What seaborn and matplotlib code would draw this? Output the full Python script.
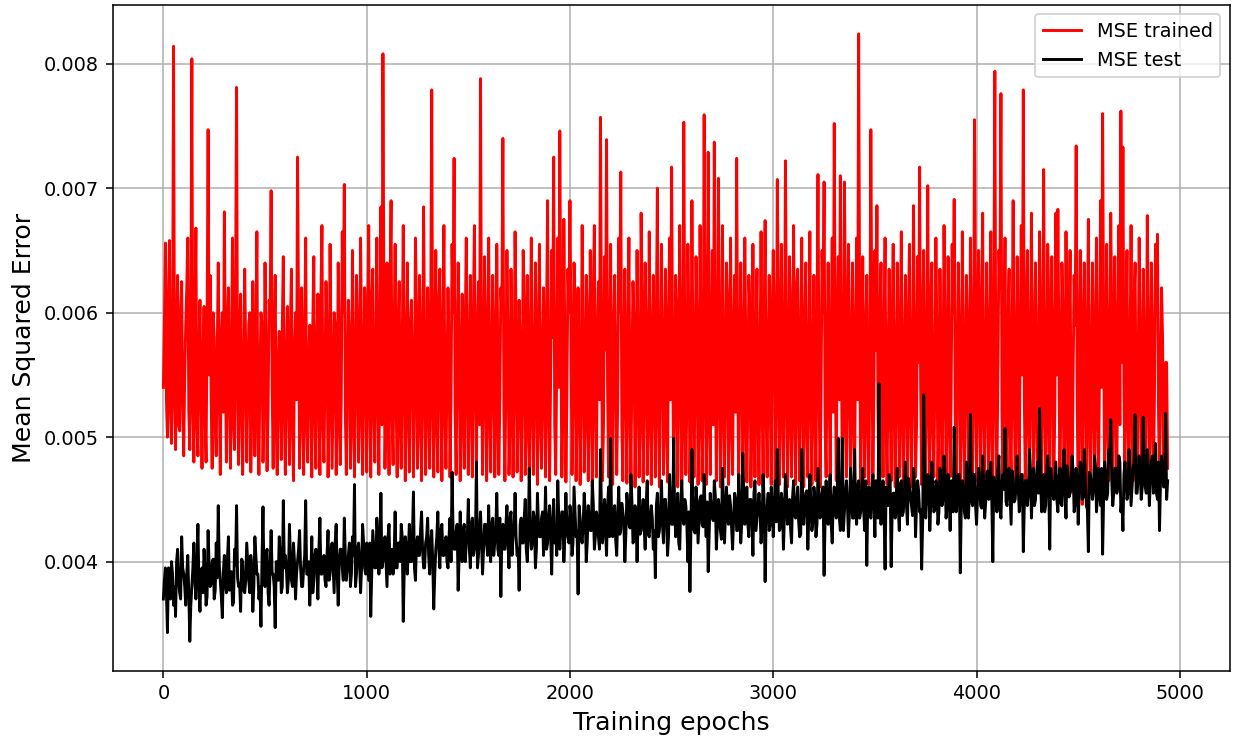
import numpy as np
import pandas as pd
import matplotlib
matplotlib.use("Agg")
import matplotlib.pyplot as plt
import seaborn as sns

# Readings every 10 epochs (epochs 0, 10, 20, ...) in units of 1e-6
mse_trained_e6 = [
    5400, 6560, 5000, 6580, 4950, 8140, 4900, 6300, 5050, 6250, 4850, 5900, 6600, 4900, 8040, 4800, 6680, 4850, 6100, 4750,
    6050, 4800, 7470, 6300, 4750, 5800, 4850, 6400, 4700, 6000, 6810, 4800, 6200, 4750, 6600, 4900, 7810, 4780, 6150, 4700,
    6350, 4800, 5900, 4720, 6250, 4850, 6650, 4700, 6000, 4800, 6400, 4730, 6100, 6980, 4750, 6300, 4700, 5850, 4820, 6450,
    4700, 6050, 4780, 6350, 4650, 6000, 7250, 4750, 6200, 4700, 6600, 4800, 5900, 4680, 6450, 4750, 6150, 4700, 6700, 4800,
    6250, 4680, 6550, 4750, 6000, 4700, 6400, 4780, 6650, 7030, 4700, 6100, 4750, 6500, 4680, 6300, 4800, 6600, 4700, 6200,
    4720, 6700, 4680, 6350, 4800, 6600, 4700, 6850, 8080, 4750, 6400, 4700, 6900, 4780, 6550, 4680, 6250, 4750, 6700, 4650,
    6400, 4720, 6100, 4680, 6600, 4750, 6300, 4650, 6850, 4700, 6200, 4750, 7790, 4680, 6500, 4720, 6350, 4650, 6700, 4750,
    6200, 4680, 6550, 7240, 4700, 6400, 4650, 6150, 4750, 6600, 4700, 6300, 4680, 6700, 4720, 6250, 7880, 4700, 6450, 4650,
    6600, 4720, 6300, 4680, 6550, 4700, 6200, 7400, 4650, 6500, 4700, 6350, 4680, 6650, 4720, 6100, 4650, 6500, 4700, 6300,
    4660, 6600, 4700, 6400, 4620, 6550, 4750, 6200, 4680, 6900, 4650, 6500, 7250, 4700, 6600, 7460, 4680, 6750, 4640, 6350,
    6900, 4700, 6400, 4650, 6200, 4620, 6700, 4720, 6300, 4650, 6500, 4600, 6700, 4680, 6250, 7570, 4650, 6450, 7390, 4680,
    6550, 4620, 6300, 4700, 6600, 7130, 4650, 6350, 4630, 6600, 4700, 6250, 4600, 6500, 4680, 6800, 4640, 6400, 4700, 6650,
    4620, 6300, 4680, 7000, 4600, 6550, 4700, 6350, 4640, 6600, 7170, 4680, 6300, 4600, 6700, 4650, 7530, 4700, 6550, 4640,
    6900, 4680, 6450, 4620, 6700, 4650, 7590, 4620, 7290, 4700, 6500, 7370, 4650, 7080, 4600, 6700, 4680, 6400, 4620, 6600,
    4700, 6300, 7240, 4620, 6400, 4700, 6600, 4640, 6300, 4600, 6550, 4680, 6350, 4620, 6650, 4600, 6740, 4680, 6300, 4620,
    6500, 4650, 7070, 4620, 6550, 4680, 7220, 4600, 6450, 4680, 6700, 4620, 6350, 4650, 6600, 4600, 6400, 4680, 6650, 4620,
    6300, 4650, 7110, 4600, 6500, 7050, 4680, 6400, 4620, 6600, 7520, 4650, 6450, 7100, 4600, 7050, 4680, 6550, 4620, 6400,
    4650, 6600, 8240, 4600, 6450, 4680, 6300, 4620, 7470, 4650, 6500, 6860, 4600, 6400, 4680, 6600, 4620, 6350, 4650, 6550,
    4600, 6400, 4680, 6650, 4620, 6300, 4650, 6550, 4600, 6860, 4680, 6450, 7170, 4620, 6500, 4650, 7020, 4600, 6400, 4680,
    6600, 4620, 6350, 4650, 6700, 4600, 6450, 4680, 6550, 6910, 4620, 6400, 4650, 6650, 4600, 6300, 4680, 6600, 4620, 7550,
    4650, 6500, 4600, 6800, 4680, 6400, 4620, 6650, 4600, 7940, 4650, 6500, 7760, 4620, 6600, 4680, 6350, 4600, 6900, 4650,
    6450, 4620, 6700, 7790, 4600, 6500, 4650, 6800, 4620, 6400, 4600, 6650, 4680, 7150, 4620, 6550, 4600, 6450, 4650, 6800,
    6830, 4620, 6400, 4580, 6650, 4620, 6500, 4560, 6300, 7340, 4500, 6500, 4460, 6400, 4520, 6750, 4580, 6400, 4620, 6600,
    4600, 6900, 7600, 4620, 6550, 4650, 6800, 4600, 6450, 4680, 6700, 7620, 7330, 4620, 6500, 4580, 6700, 4650, 6400, 4600,
    6600, 4650, 6350, 4620, 6780, 4600, 6400, 4650, 6550, 6630, 4620, 6200, 4700, 5600, 4750,
]

# Readings in between (epochs 5, 15, 25, ...) in units of 1e-6
mse_trained_mid_e6 = [
    5900, 5300, 6100, 5200, 5600, 5400, 5800, 5100, 6000, 5300, 5500, 6200, 5200, 5800, 5300, 5900, 5100, 5700, 5400, 5600,
    5200, 5900, 5500, 5300, 6000, 5100, 5700, 5400, 5800, 5200, 5600, 5900, 5300, 5700, 5100, 6100, 5400, 5800, 5200, 5500,
    5700, 5300, 6000, 5200, 5600, 5800, 5100, 5500, 5900, 5300, 5700, 5200, 6000, 5400, 5800, 5100, 5600, 5300, 5900, 5200,
    5600, 5400, 5900, 5100, 5700, 5300, 6000, 5200, 5500, 5800, 5100, 5600, 5400, 5900, 5200, 5700, 5300, 6100, 5100, 5500,
    5800, 5200, 5600, 5400, 5900, 5100, 5700, 5300, 6000, 5200, 5500, 5800, 5100, 5600, 5400, 5900, 5200, 5700, 5300, 6000,
    5900, 5300, 6100, 5200, 5600, 5400, 5800, 5100, 6000, 5300, 5500, 6200, 5200, 5800, 5300, 5900, 5100, 5700, 5400, 5600,
    5200, 5900, 5500, 5300, 6000, 5100, 5700, 5400, 5800, 5200, 5600, 5900, 5300, 5700, 5100, 6100, 5400, 5800, 5200, 5500,
    5700, 5300, 6000, 5200, 5600, 5800, 5100, 5500, 5900, 5300, 5700, 5200, 6000, 5400, 5800, 5100, 5600, 5300, 5900, 5200,
    5600, 5400, 5900, 5100, 5700, 5300, 6000, 5200, 5500, 5800, 5100, 5600, 5400, 5900, 5200, 5700, 5300, 6100, 5100, 5500,
    5800, 5200, 5600, 5400, 5900, 5100, 5700, 5300, 6000, 5200, 5500, 5800, 5100, 5600, 5400, 5900, 5200, 5700, 5300, 6000,
    5900, 5300, 6100, 5200, 5600, 5400, 5800, 5100, 6000, 5300, 5500, 6200, 5200, 5800, 5300, 5900, 5100, 5700, 5400, 5600,
    5200, 5900, 5500, 5300, 6000, 5100, 5700, 5400, 5800, 5200, 5600, 5900, 5300, 5700, 5100, 6100, 5400, 5800, 5200, 5500,
    5700, 5300, 6000, 5200, 5600, 5800, 5100, 5500, 5900, 5300, 5700, 5200, 6000, 5400, 5800, 5100, 5600, 5300, 5900, 5200,
    5600, 5400, 5900, 5100, 5700, 5300, 6000, 5200, 5500, 5800, 5100, 5600, 5400, 5900, 5200, 5700, 5300, 6100, 5100, 5500,
    5800, 5200, 5600, 5400, 5900, 5100, 5700, 5300, 6000, 5200, 5500, 5800, 5100, 5600, 5400, 5900, 5200, 5700, 5300, 6000,
    5900, 5300, 6100, 5200, 5600, 5400, 5800, 5100, 6000, 5300, 5500, 6200, 5200, 5800, 5300, 5900, 5100, 5700, 5400, 5600,
    5200, 5900, 5500, 5300, 6000, 5100, 5700, 5400, 5800, 5200, 5600, 5900, 5300, 5700, 5100, 6100, 5400, 5800, 5200, 5500,
    5700, 5300, 6000, 5200, 5600, 5800, 5100, 5500, 5900, 5300, 5700, 5200, 6000, 5400, 5800, 5100, 5600, 5300, 5900, 5200,
    5600, 5400, 5900, 5100, 5700, 5300, 6000, 5200, 5500, 5800, 5100, 5600, 5400, 5900, 5200, 5700, 5300, 6100, 5100, 5500,
    5800, 5200, 5600, 5400, 5900, 5100, 5700, 5300, 6000, 5200, 5500, 5800, 5100, 5600, 5400, 5900, 5200, 5700, 5300, 6000,
    5900, 5300, 6100, 5200, 5600, 5400, 5800, 5100, 6000, 5300, 5500, 6200, 5200, 5800, 5300, 5900, 5100, 5700, 5400, 5600,
    5200, 5900, 5500, 5300, 6000, 5100, 5700, 5400, 5800, 5200, 5600, 5900, 5300, 5700, 5100, 6100, 5400, 5800, 5200, 5500,
    5700, 5300, 6000, 5200, 5600, 5800, 5100, 5500, 5900, 5300, 5700, 5200, 6000, 5400, 5800, 5100, 5600, 5300, 5900, 5200,
    5600, 5400, 5900, 5100, 5700, 5300, 6000, 5200, 5500, 5800, 5100, 5600, 5400, 5900, 5200, 5700, 5300, 6100, 5100, 5500,
    5800, 5200, 5600, 5400, 5900, 5100, 5700, 5300, 6000, 5200, 5500, 5800, 5100, 5600,
]

# Test-set readings every 10 epochs (units of 1e-6)
mse_test_e6 = [
    3700, 3950, 3430, 3800, 4000, 3650, 3560, 4100, 3750, 4200, 3900, 3650, 4050, 3360, 3800, 4150, 3700, 4300, 3600, 3950,
    4100, 3650, 4250, 3800, 4000, 3700, 4150, 4450, 3850, 3550, 4050, 3750, 4200, 3900, 3650, 4100, 4450, 3800, 3600, 4000,
    3750, 4150, 3850, 4050, 3600, 4200, 3900, 3700, 3480, 4440, 3800, 4100, 3650, 4250, 3900, 3470, 4000, 4200, 3750, 4490,
    4050, 3750, 4300, 3850, 4150, 3700, 4000, 4250, 3800, 3950, 4490, 3900, 3650, 4200, 3850, 4100, 3700, 4350, 3900, 4050,
    3800, 4250, 3900, 4150, 3750, 4300, 3650, 4100, 3950, 4350, 3850, 4050, 3800, 4200, 4620, 3900, 4150, 3750, 4300, 3950,
    4150, 3850, 3560, 4250, 3950, 4350, 3900, 4550, 4000, 4200, 3800, 4300, 4050, 3900, 4400, 3950, 4150, 4300, 3520, 4200,
    3900, 4300, 4000, 4560, 3850, 4200, 4050, 4400, 3950, 4150, 4350, 3900, 4250, 3620, 4100, 4400, 3950, 4300, 4050, 4200,
    3950, 4350, 4720, 4100, 4250, 3770, 4400, 4000, 4300, 4150, 4500, 3950, 4350, 4100, 4800, 4050, 4400, 3900, 4300, 4150,
    4450, 4000, 4350, 4150, 4550, 4050, 3720, 4300, 4100, 4450, 3950, 4400, 4200, 4550, 4050, 3770, 4350, 4150, 4500, 4000,
    4750, 4100, 4400, 3950, 4550, 4200, 4350, 4050, 4600, 4150, 4450, 3900, 4500, 4250, 4650, 4100, 4400, 4000, 4550, 4200,
    4450, 4050, 4600, 4200, 3740, 4350, 4150, 4550, 4000, 4450, 4250, 4650, 4100, 4400, 4200, 4900, 4150, 4500, 4050, 4600,
    4990, 4200, 4450, 4050, 4600, 4250, 4400, 4000, 4550, 4300, 4700, 4150, 4450, 4000, 4600, 4250, 4500, 4100, 4650, 4200,
    4450, 4100, 3870, 4550, 4250, 4650, 4150, 4500, 4050, 4700, 4300, 4990, 4200, 4550, 4100, 4650, 4300, 4450, 4000, 3760,
    4900, 4250, 4600, 4150, 4500, 4300, 4700, 4200, 3920, 4550, 4350, 4650, 4100, 4500, 4250, 4750, 4150, 4600, 4300, 4450,
    4100, 4550, 4250, 4700, 4150, 4870, 4300, 4600, 4200, 4500, 4050, 4650, 4350, 4550, 4150, 4700, 3840, 4450, 4250, 4600,
    4200, 4650, 4900, 4250, 4550, 4100, 4700, 4300, 4500, 4150, 4650, 4350, 4600, 4200, 4900, 4300, 4550, 4100, 4700, 4250,
    4600, 4200, 4750, 4350, 4550, 3890, 4650, 4300, 4700, 4150, 4600, 4350, 4990, 4250, 4990, 4400, 4650, 4200, 4750, 4350,
    4900, 4300, 4650, 4400, 4750, 4250, 3970, 4600, 4350, 4700, 4200, 4550, 5430, 4300, 4650, 3940, 4500, 4700, 3960, 4550,
    4350, 4750, 4250, 4650, 4400, 4800, 4300, 4600, 4450, 4750, 4200, 4650, 4400, 3940, 5340, 4350, 4700, 4250, 4800, 4400,
    4650, 4300, 4750, 4450, 4850, 4350, 4700, 4250, 4600, 5080, 4400, 4700, 3910, 4650, 4400, 4800, 4350, 5180, 4450, 4700,
    4300, 4750, 4450, 4850, 4350, 4700, 4500, 4800, 4000, 4650, 4400, 4850, 4350, 4700, 5070, 4450, 4750, 4300, 4650, 4500,
    4850, 4400, 4700, 4080, 4650, 4450, 4900, 4350, 4750, 4500, 4800, 5230, 4400, 4700, 4450, 4850, 4100, 4650, 4500, 4800,
    4400, 4750, 4450, 4900, 4350, 4700, 4550, 4850, 4400, 4750, 4300, 4800, 4500, 4900, 4450, 4080, 4700, 4500, 4850, 4400,
    4750, 4450, 4060, 4800, 4500, 4900, 5140, 4450, 4750, 4550, 4850, 4400, 4250, 4800, 4500, 4900, 4450, 4750, 5180, 4550,
    4850, 4500, 5160, 4600, 4900, 4450, 4800, 4550, 4950, 4500, 4250, 4850, 4600, 5190, 4650,
]

# Test-set readings in between (epochs 5, 15, 25, ...) in units of 1e-6
mse_test_mid_e6 = [
    3850, 3750, 3950, 3700, 3900, 3800, 4000, 3850, 3700, 3950, 3800, 3900, 3750, 3650, 3950, 3850, 4000, 3800, 3900, 3750,
    3920, 3720, 3970, 3820, 4020, 3770, 3870, 3970, 3720, 3920, 3820, 4020, 3770, 3920, 3670, 3970, 3870, 3820, 4020, 3770,
    3850, 4000, 3750, 3950, 3800, 4050, 3900, 3800, 4000, 3850, 4050, 3750, 3950, 3900, 3800, 4000, 3850, 4050, 3800, 3950,
    3950, 3850, 4050, 3800, 4000, 3900, 4100, 3950, 3800, 4050, 3900, 4000, 3850, 3750, 4050, 3950, 4100, 3900, 4000, 3850,
    4050, 3850, 4100, 3950, 4150, 3900, 4000, 4100, 3850, 4050, 3950, 4150, 3900, 4050, 3800, 4100, 4000, 3950, 4150, 3900,
    4000, 4150, 3900, 4100, 3950, 4200, 4050, 3950, 4150, 4000, 4200, 3900, 4100, 4050, 3950, 4150, 4000, 4200, 3950, 4100,
    4100, 4000, 4200, 3950, 4150, 4050, 4250, 4100, 3950, 4200, 4050, 4150, 4000, 3900, 4200, 4100, 4250, 4050, 4150, 4000,
    4200, 4000, 4250, 4100, 4300, 4050, 4150, 4250, 4000, 4200, 4100, 4300, 4050, 4200, 3950, 4250, 4150, 4100, 4300, 4050,
    4150, 4300, 4050, 4250, 4100, 4350, 4200, 4100, 4300, 4150, 4350, 4050, 4250, 4200, 4100, 4300, 4150, 4350, 4100, 4250,
    4250, 4150, 4350, 4100, 4300, 4200, 4400, 4250, 4100, 4350, 4200, 4300, 4150, 4050, 4350, 4250, 4400, 4200, 4300, 4150,
    4350, 4150, 4400, 4250, 4450, 4200, 4300, 4400, 4150, 4350, 4250, 4450, 4200, 4350, 4100, 4400, 4300, 4250, 4450, 4200,
    4270, 4420, 4170, 4370, 4220, 4470, 4320, 4220, 4420, 4270, 4470, 4170, 4370, 4320, 4220, 4420, 4270, 4470, 4220, 4370,
    4350, 4250, 4450, 4200, 4400, 4300, 4500, 4350, 4200, 4450, 4300, 4400, 4250, 4150, 4450, 4350, 4500, 4300, 4400, 4250,
    4430, 4230, 4480, 4330, 4530, 4280, 4380, 4480, 4230, 4430, 4330, 4530, 4280, 4430, 4180, 4480, 4380, 4330, 4530, 4280,
    4350, 4500, 4250, 4450, 4300, 4550, 4400, 4300, 4500, 4350, 4550, 4250, 4450, 4400, 4300, 4500, 4350, 4550, 4300, 4450,
    4420, 4320, 4520, 4270, 4470, 4370, 4570, 4420, 4270, 4520, 4370, 4470, 4320, 4220, 4520, 4420, 4570, 4370, 4470, 4320,
    4500, 4300, 4550, 4400, 4600, 4350, 4450, 4550, 4300, 4500, 4400, 4600, 4350, 4500, 4250, 4550, 4450, 4400, 4600, 4350,
    4450, 4600, 4350, 4550, 4400, 4650, 4500, 4400, 4600, 4450, 4650, 4350, 4550, 4500, 4400, 4600, 4450, 4650, 4400, 4550,
    4520, 4420, 4620, 4370, 4570, 4470, 4670, 4520, 4370, 4620, 4470, 4570, 4420, 4320, 4620, 4520, 4670, 4470, 4570, 4420,
    4600, 4400, 4650, 4500, 4700, 4450, 4550, 4650, 4400, 4600, 4500, 4700, 4450, 4600, 4350, 4650, 4550, 4500, 4700, 4450,
    4530, 4680, 4430, 4630, 4480, 4730, 4580, 4480, 4680, 4530, 4730, 4430, 4630, 4580, 4480, 4680, 4530, 4730, 4480, 4630,
    4600, 4500, 4700, 4450, 4650, 4550, 4750, 4600, 4450, 4700, 4550, 4650, 4500, 4400, 4700, 4600, 4750, 4550, 4650, 4500,
    4670, 4470, 4720, 4570, 4770, 4520, 4620, 4720, 4470, 4670, 4570, 4770, 4520, 4670, 4420, 4720, 4620, 4570, 4770, 4520,
    4600, 4750, 4500, 4700, 4550, 4800, 4650, 4550, 4750, 4600, 4800, 4500, 4700, 4650, 4550, 4750, 4600, 4800, 4550, 4700,
    4700, 4600, 4800, 4550, 4750, 4650, 4850, 4700, 4550, 4800, 4650, 4750, 4600, 4500,
]

series_labels = ["MSE trained", "MSE test"]
series_colors = ["red", "black"]
y_ticks = [0.004, 0.005, 0.006, 0.007, 0.008]
x_ticks = [0, 1000, 2000, 3000, 4000, 5000]


def series_frame(main_vals, mid_vals, label):
    ep_main = np.arange(len(main_vals)) * 10
    ep_mid = np.arange(len(mid_vals)) * 10 + 5
    d = pd.DataFrame({
        "epoch": np.concatenate([ep_main, ep_mid]),
        "mse": np.concatenate([np.array(main_vals), np.array(mid_vals)]) * 1e-6,
    })
    d["series"] = label
    return d.sort_values("epoch").reset_index(drop=True)


frames = {
    series_labels[0]: series_frame(mse_trained_e6, mse_trained_mid_e6, series_labels[0]),
    series_labels[1]: series_frame(mse_test_e6, mse_test_mid_e6, series_labels[1]),
}

plt.rcParams["font.family"] = ["DejaVu Sans"]
DPI = 139
fig = plt.figure(figsize=(1235 / DPI, 752 / DPI), dpi=DPI)
ax = fig.add_axes([0.0913, 0.1081, 0.9960 - 0.0913, 0.9937 - 0.1081])

for lab, col in zip(series_labels, series_colors):
    sns.lineplot(data=frames[lab], x="epoch", y="mse", color=col, linewidth=1.5,
                 label=lab, ax=ax, estimator=None, sort=False)

ax.set_xlim(-249, 5247)
ax.set_ylim(0.003124, 0.008474)
ax.set_xticks(x_ticks)
ax.set_yticks(y_ticks)
ax.set_yticklabels([f"{v:.3f}" for v in y_ticks])
ax.grid(True, color="#b0b0b0", linewidth=0.8)
ax.set_axisbelow(True)
ax.set_xlabel("Training epochs", fontsize=13)
ax.set_ylabel("Mean Squared Error", fontsize=13)
ax.tick_params(labelsize=10)
ax.legend(loc="upper right", fontsize=10)

fig.savefig("out.png", dpi=DPI)
